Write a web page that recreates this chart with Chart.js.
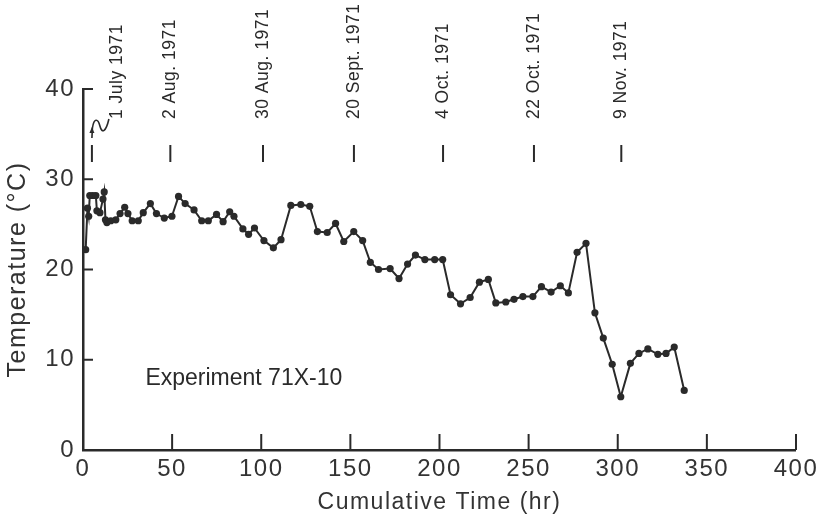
<!DOCTYPE html>
<html>
<head>
<meta charset="utf-8">
<script src="https://cdn.jsdelivr.net/npm/chart.js@4/dist/chart.umd.min.js"></script>
<style>
  html, body { margin: 0; padding: 0; background: #fff; }
  #wrap { width: 821px; height: 520px; position: relative; }
</style>
</head>
<body>
<div id="wrap"><canvas id="c" width="821" height="520"></canvas></div>
<script>
// ---- data ----
const hours = [1.5, 2.5, 3.2, 3.8, 5.5, 7.2, 7.8, 9.5, 11.2, 11.9, 12.6,
  13.4, 15.6, 18.4, 20.8, 23.4, 25.2, 27.6, 31.0, 33.8, 37.8, 41.2, 45.6, 49.9,
  53.6, 57.3, 62.3, 66.6, 70.3, 74.9, 78.6, 82.3, 84.7, 89.7, 92.9, 96.2, 101.5,
  106.8, 111.1, 116.6, 122.2, 127.2, 131.5, 137.0, 141.7, 146.3, 151.9, 156.9,
  161.2, 165.8, 172.3, 177.3, 182.1, 186.5, 191.8, 197.3, 201.8, 206.2, 211.8,
  217.2, 222.4, 227.4, 231.6, 237.2, 241.8, 246.8, 252.4, 257.2, 262.6, 267.8,
  272.3, 277.2, 282.2, 287.2, 291.9, 296.9, 301.7, 307.1, 311.9, 316.9, 322.5,
  327.1, 331.7, 337.3];
const temps = [22.2, 26.8, 25.9, 28.2, 28.2, 28.2, 26.5, 26.3, 27.8, 28.6, 25.5,
  25.2, 25.4, 25.5, 26.2, 26.9, 26.2, 25.4, 25.4, 26.3, 27.3, 26.2, 25.7, 25.9,
  28.1, 27.3, 26.6, 25.4, 25.4, 26.1, 25.3, 26.4, 25.9, 24.5, 23.9, 24.6, 23.2,
  22.4, 23.3, 27.1, 27.2, 27.0, 24.2, 24.1, 25.1, 23.1, 24.2, 23.2,
  20.8, 20.0, 20.1, 19.0, 20.6, 21.6, 21.1, 21.1, 21.1, 17.2, 16.2,
  16.9, 18.6, 18.9, 16.3, 16.4, 16.7, 17.0, 17.0, 18.1, 17.5, 18.2,
  17.4, 21.9, 22.9, 15.2, 12.4, 9.5, 5.9, 9.6, 10.7, 11.2, 10.6,
  10.7, 11.4, 6.6];
const xTicks = [0, 50, 100, 150, 200, 250, 300, 350, 400];
const yTicks = [0, 10, 20, 30, 40];
const dateLabels = ['1 July 1971', '2 Aug. 1971', '30 Aug. 1971', '20 Sept. 1971',
  '4 Oct. 1971', '22 Oct. 1971', '9 Nov. 1971'];
const dateHours = [5, 49, 101, 152, 202, 253, 302];
const experimentLabel = 'Experiment 71X-10';

const INK = '#2a2a2a';
const FONT = '"Liberation Sans Narrow", "Liberation Sans", sans-serif';

const decor = {
  id: 'decor',
  beforeDraw(chart) { chart.ctx.letterSpacing = '1.5px'; },
  afterDraw(chart) {
    const ctx = chart.ctx;
    const xs = chart.scales.x, ys = chart.scales.y;
    const ca = chart.chartArea;
    ctx.save();
    ctx.strokeStyle = INK;
    ctx.fillStyle = INK;
    ctx.lineWidth = 2;
    // inward ticks
    xTicks.forEach(v => {
      const px = xs.getPixelForValue(v);
      ctx.beginPath(); ctx.moveTo(px, ca.bottom); ctx.lineTo(px, ca.bottom - 16); ctx.stroke();
    });
    yTicks.forEach(v => {
      const py = ys.getPixelForValue(v);
      ctx.beginPath(); ctx.moveTo(ca.left, py); ctx.lineTo(ca.left + 10, py); ctx.stroke();
    });
    // date annotations
    ctx.font = '17.5px ' + FONT;
    ctx.letterSpacing = '0.5px';
    dateHours.forEach((h, i) => {
      const px = xs.getPixelForValue(h);
      ctx.beginPath(); ctx.moveTo(px, 145); ctx.lineTo(px, 162); ctx.stroke();
      const tx = i === 0 ? px + 25 : px;
      ctx.save();
      ctx.translate(tx, 119);
      ctx.rotate(-Math.PI / 2);
      ctx.textAlign = 'left';
      ctx.textBaseline = 'middle';
      ctx.fillText(dateLabels[i], 0, 0);
      ctx.restore();
      if (i === 0) {
        ctx.lineWidth = 1.6;
        ctx.beginPath();
        ctx.moveTo(px, 138);
        ctx.lineTo(px + 0.5, 128);
        ctx.bezierCurveTo(px + 2, 118, px + 6, 118, px + 8, 126);
        ctx.bezierCurveTo(px + 10, 134, px + 14, 132, px + 17, 119);
        ctx.stroke();
        ctx.beginPath();
        ctx.moveTo(px - 2.5, 133); ctx.lineTo(px + 2.5, 133); ctx.lineTo(px, 127); ctx.closePath();
        ctx.fill();
        ctx.lineWidth = 2;
      }
    });
    // experiment label
    ctx.font = '23px ' + FONT;
    ctx.letterSpacing = '0px';
    ctx.textAlign = 'left';
    ctx.textBaseline = 'middle';
    ctx.fillText(experimentLabel, xs.getPixelForValue(35), ys.getPixelForValue(7.9));
    ctx.restore();
  }
};

new Chart(document.getElementById('c'), {
  type: 'line',
  data: {
    datasets: [{
      data: hours.map((h, i) => ({ x: h, y: temps[i] })),
      borderColor: INK,
      backgroundColor: INK,
      borderWidth: 2,
      pointRadius: 3.6,
      pointHoverRadius: 3.6,
      pointBackgroundColor: INK,
      pointBorderWidth: 0,
      tension: 0,
      fill: false
    }]
  },
  options: {
    responsive: false,
    animation: false,
    devicePixelRatio: 1,
    layout: { padding: { top: 89, right: 21, left: 0, bottom: 0 } },
    plugins: { legend: { display: false }, tooltip: { enabled: false } },
    scales: {
      x: {
        type: 'linear', min: 0, max: 400,
        afterBuildTicks: s => { s.ticks = xTicks.map(v => ({ value: v })); },
        afterFit: s => { s.height = 70; },
        grid: { display: false, drawTicks: false },
        border: { display: true, color: INK, width: 2.5 },
        ticks: { color: '#333', font: { family: FONT, size: 24 }, padding: 5, maxRotation: 0 },
        title: { display: true, text: 'Cumulative Time (hr)', color: '#333',
          font: { family: FONT, size: 23 }, padding: { top: 0, bottom: 4 } }
      },
      y: {
        type: 'linear', min: 0, max: 40,
        afterBuildTicks: s => { s.ticks = yTicks.map(v => ({ value: v })); },
        afterFit: s => { s.width = 83; },
        grid: { display: false, drawTicks: false },
        border: { display: true, color: INK, width: 2.5 },
        ticks: { color: '#333', font: { family: FONT, size: 24 }, padding: 8 },
        title: { display: true, text: 'Temperature (°C)', color: '#333',
          font: { family: FONT, size: 25 }, padding: { top: 3, bottom: 0 } }
      }
    }
  },
  plugins: [decor]
});
</script>
</body>
</html>
